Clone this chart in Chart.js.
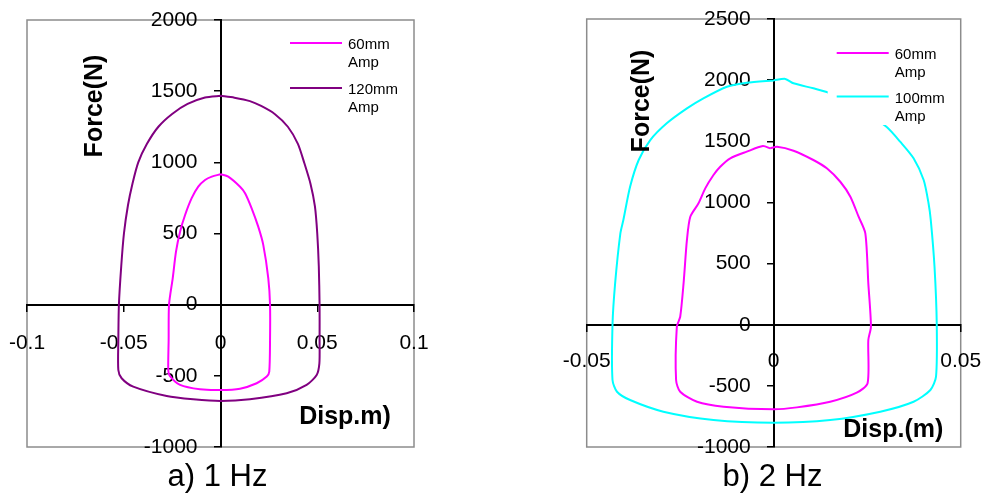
<!DOCTYPE html>
<html>
<head>
<meta charset="utf-8">
<script src="https://cdn.jsdelivr.net/npm/chart.js@4.4.1/dist/chart.umd.min.js"></script>
<style>
body{margin:0;background:#fff;width:987px;height:493px;overflow:hidden;position:relative}
canvas{position:absolute;top:0}
#c1{left:0}
#c2{left:540px}
</style>
</head>
<body>
<canvas id="c1" width="440" height="493"></canvas>
<canvas id="c2" width="447" height="493"></canvas>
<script>
// a) 1 Hz  - Disp (m) / Force (N)
const hz1_60_x  = [0, 0.0040, 0.0101, 0.0127, 0.0161, 0.0195, 0.0221, 0.0247, 0.0256, 0.0256, 0.0252, 0.0239, 0.0187, 0.0101, 0, -0.0106, -0.0209, -0.0262, -0.0270, -0.0268, -0.0266, -0.0247, -0.0230, -0.0209, -0.0183, -0.0149, -0.0115, -0.0080, -0.0045, 0];
const hz1_60_y  = [916, 900, 829, 783, 677, 548, 420, 185, 0, -250, -470, -505, -552, -590, -600, -595, -564, -500, -459, -250, 0, 185, 372, 513, 630, 748, 829, 876, 900, 916];
const hz1_120_x = [0, 0.0072, 0.0152, 0.0210, 0.0280, 0.0348, 0.0400, 0.0432, 0.0465, 0.0488, 0.0500, 0.0508, 0.0512, 0.0512, 0.0511, 0.0497, 0.0445, 0.0342, 0.0152, 0, -0.0141, -0.0278, -0.0451, -0.0511, -0.0528, -0.0528, -0.0525, -0.0513, -0.0499, -0.0478, -0.0455, -0.0425, -0.0380, -0.0321, -0.0250, -0.0170, -0.0080, 0];
const hz1_120_y = [1467, 1454, 1430, 1396, 1340, 1250, 1130, 1000, 850, 690, 500, 270, 0, -250, -412, -494, -564, -623, -665, -677, -665, -642, -576, -517, -459, -250, 0, 270, 500, 700, 850, 1000, 1130, 1250, 1340, 1410, 1455, 1467];

// b) 2 Hz
const hz2_60_x  = [-0.0009, 0.0009, 0.0053, 0.0106, 0.0142, 0.0178, 0.0205, 0.0227, 0.0245, 0.0253, 0.0260, 0.0253, 0.0251, 0.0222, 0.0151, 0.0062, 0, -0.0134, -0.0205, -0.0250, -0.0261, -0.0259, -0.0250, -0.0241, -0.0232, -0.0223, -0.0201, -0.0183, -0.0161, -0.0143, -0.0116, -0.0072, -0.0029, -0.0009];
const hz2_60_y  = [1442, 1455, 1423, 1347, 1279, 1169, 1047, 883, 747, 338, -16, -125, -479, -556, -630, -676, -692, -670, -630, -548, -452, -16, 65, 338, 693, 883, 993, 1115, 1224, 1292, 1361, 1415, 1461, 1442];
const hz2_100_x = [0, 0.0031, 0.0053, 0.0106, 0.0147, 0.0200, 0.0255, 0.0303, 0.0338, 0.0374, 0.0401, 0.0414, 0.0420, 0.0430, 0.0436, 0.0434, 0.0419, 0.0374, 0.0285, 0.0151, 0, -0.0161, -0.0295, -0.0384, -0.0419, -0.0431, -0.0431, -0.0424, -0.0410, -0.0402, -0.0384, -0.0361, -0.0330, -0.0286, -0.0232, -0.0188, -0.0125, -0.0072, 0];
const hz2_100_y = [1998, 2010, 1974, 1933, 1897, 1820, 1720, 1614, 1497, 1361, 1183, 993, 856, 474, 0, -425, -534, -630, -711, -779, -801, -779, -711, -616, -548, -452, 0, 338, 747, 856, 1128, 1347, 1510, 1647, 1769, 1851, 1946, 1979, 1998];

const labels1 = ['60mm Amp', '120mm Amp'];
const labels2 = ['60mm Amp', '100mm Amp'];
const titles = ['a) 1 Hz', 'b) 2 Hz'];
const xTitles = ['Disp.m)', 'Disp.(m)'];
const yTitle = 'Force(N)';

const FONT = '"Liberation Sans", Arial, sans-serif';
const zip = (xs, ys) => xs.map((x, i) => ({x, y: ys[i]}));

function line(label, xs, ys, color){
  return {label, data: zip(xs, ys), showLine: true, borderColor: color, backgroundColor: color,
    borderWidth: 2, pointRadius: 0, tension: 0.25, fill: false};
}

// frame, legend and texts
function extras(pos){
  return {
    id: 'extras',
    beforeDraw(chart){
      const a = chart.chartArea, ctx = chart.ctx;
      ctx.save(); ctx.strokeStyle = '#8c8c8c'; ctx.lineWidth = 1.5;
      ctx.strokeRect(a.left, a.top, a.right - a.left, a.bottom - a.top); ctx.restore();
    },
    afterDraw(chart){
      const a = chart.chartArea, ctx = chart.ctx;
      ctx.save();
      const lx = a.right - 124, ly = a.top + pos.legendY;
      // legend box is opaque (hides the curve behind it)
      ctx.fillStyle = '#fff'; ctx.fillRect(lx - pos.boxL, ly - 18, a.right - 4 - (lx - pos.boxL), 90);
      ctx.textAlign = 'left'; ctx.textBaseline = 'middle'; ctx.font = '15px ' + FONT;
      chart.data.datasets.forEach((ds, i) => {
        const y = ly + i * pos.legendGap;
        ctx.strokeStyle = ds.borderColor; ctx.lineWidth = 2;
        ctx.beginPath(); ctx.moveTo(lx, y); ctx.lineTo(lx + 52, y); ctx.stroke();
        ctx.fillStyle = '#000';
        ds.label.split(' ').forEach((t, j) => ctx.fillText(t, lx + 58, y + 2 + j * 18));
      });
      ctx.fillStyle = '#000'; ctx.textAlign = 'center';
      ctx.font = 'bold 25px ' + FONT;
      ctx.fillText(pos.xTitle, pos.disp[0], pos.disp[1]);
      ctx.save(); ctx.translate(pos.force[0], pos.force[1]); ctx.rotate(-Math.PI / 2);
      ctx.fillText(yTitle, 0, 0); ctx.restore();
      ctx.font = '31px ' + FONT;
      ctx.fillText(pos.title, pos.title_xy[0], pos.title_xy[1]);
      ctx.restore();
    }
  };
}

function axis(min, max, step, pad, extra){
  return Object.assign({
    type: 'linear', min, max,
    ticks: {stepSize: step, color: '#000', font: {family: FONT, size: 21}, padding: pad,
      maxRotation: 0, autoSkip: false, callback: v => String(v)},
    grid: {drawOnChartArea: false, drawTicks: true, tickLength: 6, color: '#000', lineWidth: 1.5},
    border: {color: '#000', width: 2},
    // labels may overflow, plot box is set by layout padding only
    afterFit: s => { s.paddingLeft = s.paddingRight = s.paddingTop = s.paddingBottom = 0; }
  }, extra);
}

function makeChart(id, datasets, xr, yr, padding, pos){
  return new Chart(document.getElementById(id), {
    type: 'scatter',
    data: {datasets},
    options: {
      responsive: false, animation: false,
      layout: {padding},
      plugins: {legend: {display: false}, title: {display: false}, tooltip: {enabled: false}},
      scales: {
        x: axis(xr[0], xr[1], xr[2], xr[3], {position: {y: 0}}),
        y: axis(yr[0], yr[1], yr[2], yr[3], {position: 'center'})
      }
    },
    plugins: [extras(pos)]
  });
}

makeChart('c1',
  [line(labels1[0], hz1_60_x, hz1_60_y, '#ff00ff'), line(labels1[1], hz1_120_x, hz1_120_y, '#800080')],
  [-0.1, 0.1, 0.05, 20], [-1000, 2000, 500, 17],
  {left: 27, right: 26, top: 20, bottom: 46},
  {legendY: 23, legendGap: 45, boxL: 0, xTitle: xTitles[0], disp: [345, 417], force: [95, 106], title: titles[0], title_xy: [217.5, 477]});

makeChart('c2',
  [line(labels2[0], hz2_60_x, hz2_60_y, '#ff00ff'), line(labels2[1], hz2_100_x, hz2_100_y, '#00ffff')],
  [-0.05, 0.05, 0.05, 18], [-1000, 2500, 500, 17],
  {left: 46.7, right: 26.3, top: 19, bottom: 46},
  {legendY: 34, legendGap: 43.5, boxL: 9, xTitle: xTitles[1], disp: [353.3, 430], force: [101.7, 101], title: titles[1], title_xy: [232.5, 477]});
</script>
</body>
</html>
